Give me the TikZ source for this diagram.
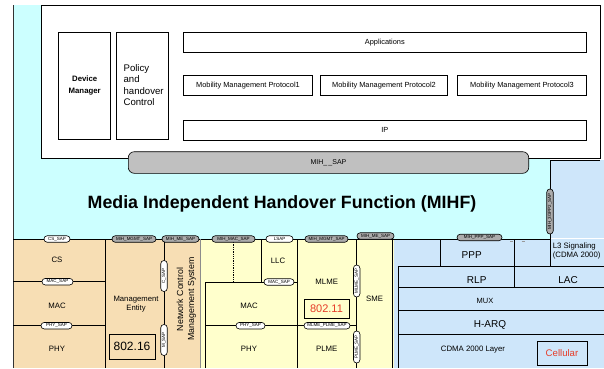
\documentclass[tikz,border=0pt]{standalone}
\usepackage{fontspec}
\setmainfont{Liberation Sans}
\definecolor{mihfcyan}{RGB}{204,255,255}
\definecolor{wimaxtan}{RGB}{247,222,180}
\definecolor{wifiyellow}{RGB}{255,255,204}
\definecolor{cdmablue}{RGB}{206,230,250}
\definecolor{sapgray}{RGB}{192,192,192}
\definecolor{mihgray}{RGB}{172,172,172}
\definecolor{cellred}{RGB}{230,60,40}

\tikzset{
  layer/.style={draw, line width=0.6pt},
  lbl/.style={inner sep=0pt, font=\fontsize{7.8}{9}\selectfont},
  small/.style={inner sep=0pt, font=\fontsize{7.4}{9}\selectfont},
  big/.style={inner sep=0pt, font=\fontsize{10}{12}\selectfont},
  sap/.style={draw, line width=0.6pt, rounded corners=3.2pt, inner sep=0pt, minimum height=6.5pt, fill=white, font=\fontsize{4.5}{5}\selectfont},
  mihsap/.style={sap, fill=mihgray},
  vsap/.style={sap, rotate=90},
  vmihsap/.style={mihsap, rotate=90},
}

\begin{document}
\begin{tikzpicture}[x=1pt, y=-1pt, line width=0.6pt]
	\useasboundingbox (0,0) rectangle (604,368);
	% backgrounds
	\fill[mihfcyan] (13,5) rectangle (550,239);
	\fill[cdmablue] (550,160) rectangle (604,238);
	\fill[wimaxtan] (13,239) rectangle (200,368);
	\fill[wifiyellow] (200,239) rectangle (394,368);
	\fill[cdmablue] (394,239) rectangle (604,368);
	\draw[white, line width=1pt] (550,238.5) -- (604,238.5);
	\draw[black!80] (13,5) -- (13,368);
	\draw (13,239) -- (550,239);
	\draw (600,160) -- (550,160) -- (550,266.7);

	% upper stack
	\node[layer, fill=white, minimum width=559, minimum height=153, anchor=north west] (upper) at (41,5) {};
	\node[layer, minimum width=52, minimum height=106.7, align=center, font=\bfseries\fontsize{7.8}{11.5}\selectfont] (devman) at (84.7,85.7) {Device\\Manager};
	\node[layer, minimum width=51.6, minimum height=106.7] (policy) at (142.5,85.7) {};
	\node[inner sep=0pt, anchor=west, align=left, font=\fontsize{9.6}{11.5}\selectfont] (policytxt) at (123.3,85) {Policy\\and\\handover\\Control};
	\node[layer, small, minimum width=403, minimum height=20] (apps) at (384.8,42.3) {Applications};
	\node[layer, small, minimum width=129.4, minimum height=20] (mmp1) at (248,85.7) {Mobility Management Protocol1};
	\node[layer, small, minimum width=127.4, minimum height=20] (mmp2) at (384,85.7) {Mobility Management Protocol2};
	\node[layer, small, minimum width=128.6, minimum height=20] (mmp3) at (522,85.7) {Mobility Management Protocol3};
	\node[layer, small, minimum width=403, minimum height=20] (ip) at (384.8,130) {IP};
	\node[layer, fill=sapgray, rounded corners=6pt, minimum width=400.4, minimum height=21.6, small, font=\fontsize{7}{8}\selectfont] (mihsap) at (328.5,162.5) {MIH\_\,\_SAP};

	\node[inner sep=0pt, font=\bfseries\fontsize{17.8}{20}\selectfont] (mihf) at (282,203.5) {Media Independent Handover Function (MIHF)};

	% 802.16
	\draw (105,239) -- (105,368);
	\draw (13,281.7) -- (105,281.7);
	\draw (13,325.7) -- (105,325.7);
	\draw (164,239) -- (164,368);
	\draw[black!45] (200,239) -- (200,368);
	\node[lbl] (cs) at (57,260) {CS};
	\node[lbl] (mac16) at (57,305.7) {MAC};
	\node[lbl] (phy16) at (57,349) {PHY};
	\node[lbl, align=center, font=\fontsize{7.7}{8.8}\selectfont] (me16) at (136,304) {Management\\Entity};
	\node[layer, minimum width=46, minimum height=25, font=\fontsize{12}{14}\selectfont] (std16) at (132,346.5) {802.16};
	\node[inner sep=0pt, rotate=90, font=\fontsize{8.8}{10}\selectfont] (ncms1) at (180,299.5) {Network Control};
	\node[inner sep=0pt, rotate=90, font=\fontsize{8.8}{10}\selectfont] (ncms2) at (192,299) {Management System};
	\node[sap, minimum width=26] (cssap) at (57,239) {CS\_SAP};
	\node[sap, minimum width=31] (macsap16) at (57.5,281.7) {MAC\_SAP};
	\node[sap, minimum width=31] (physap16) at (56.5,325.7) {PHY\_SAP};
	\node[mihsap, minimum width=44] (mgmtsap16) at (134,239) {MIH\_MGMT\_SAP};
	\node[mihsap, minimum width=37] (mesap16) at (180.5,239) {MIH\_ME\_SAP};
	\node[vsap, minimum width=31] (csap) at (164,276) {C\_SAP};
	\node[vsap, minimum width=31] (msap) at (164,340) {M\_SAP};

	% 802.11
	\draw (261,239) -- (261,282);
	\draw (205.7,368) -- (205.7,282) -- (297.7,282);
	\draw (297.7,239) -- (297.7,368);
	\draw (356.7,239) -- (356.7,368);
	\draw (392.7,239) -- (392.7,368);
	\draw (205.7,325.7) -- (356.7,325.7);
	\draw[densely dotted, line width=1.3pt] (233.5,242) -- (233.5,282);
	\node[lbl] (llc) at (278,261) {LLC};
	\node[lbl] (mlme) at (326.7,282.3) {MLME};
	\node[lbl] (sme) at (374.5,299) {SME};
	\node[lbl] (mac11) at (249,305.7) {MAC};
	\node[lbl] (phy11) at (249,349) {PHY};
	\node[lbl] (plme) at (326.7,349) {PLME};
	\node[layer, minimum width=45, minimum height=19, text=cellred, font=\fontsize{11}{13}\selectfont] (std11) at (326.5,308.5) {802.11};
	\node[mihsap, minimum width=43] (macsap) at (233.5,239) {MIH\_MAC\_SAP};
	\node[sap, minimum width=27] (lsap) at (279.5,239) {LSAP};
	\node[sap, minimum width=30] (macsap11) at (279,282) {MAC\_SAP};
	\node[sap, minimum width=29] (physap11) at (250.5,325.7) {PHY\_SAP};
	\node[mihsap, minimum width=43] (mgmtsap11) at (326.5,239) {MIH\_MGMT\_SAP};
	\node[sap, minimum width=46] (plmesap) at (327,325.7) {MLME\_PLME\_SAP};
	\node[mihsap, minimum width=37] (mesap11) at (375.5,236) {MIH\_ME\_SAP};
	\node[vsap, minimum width=32] (mlmesapv) at (356.7,281) {MLME\_SAP};
	\node[vsap, minimum width=32] (plmesapv) at (356.7,347) {PLME\_SAP};

	% CDMA 2000
	\draw (394,239) -- (550,239);
	\draw (440,239) -- (440,266.7);
	\draw (514.3,239) -- (514.3,287.3);
	\draw (604,266.7) -- (398,266.7) -- (398,368);
	\draw (398,287.3) -- (604,287.3);
	\draw (398,310.7) -- (604,310.7);
	\draw (398,334) -- (604,334);
	\draw[black!40, line width=0.4pt] (510,241.5) -- (513,241.5) (521.5,241.5) -- (524.5,241.5);
	\node[big] (ppp) at (471.7,254.7) {PPP};
	\node[inner sep=0pt, anchor=west, align=left, font=\fontsize{7.8}{9.7}\selectfont] (l3sig) at (552.5,251) {L3 Signaling\\(CDMA 2000)};
	\node[big] (rlp) at (476.7,280) {RLP};
	\node[big] (lac) at (568,280) {LAC};
	\node[inner sep=0pt, font=\fontsize{7.5}{9}\selectfont] (mux) at (485,300.7) {MUX};
	\node[big] (harq) at (490,324.7) {H-ARQ};
	\node[lbl] (cdmalayer) at (473,349.7) {CDMA 2000 Layer};
	\node[layer, minimum width=50, minimum height=24.7, text=cellred, font=\fontsize{9.6}{11}\selectfont] (cell) at (562,353.3) {Cellular};
	\node[mihsap, minimum width=45] (pppsap) at (479.5,237.5) {MIH\_PPP\_SAP};
	\node[vmihsap, minimum width=45] (gppsap) at (550,211.5) {MIH\_3GPP2\_SAP};
\end{tikzpicture}
\end{document}
